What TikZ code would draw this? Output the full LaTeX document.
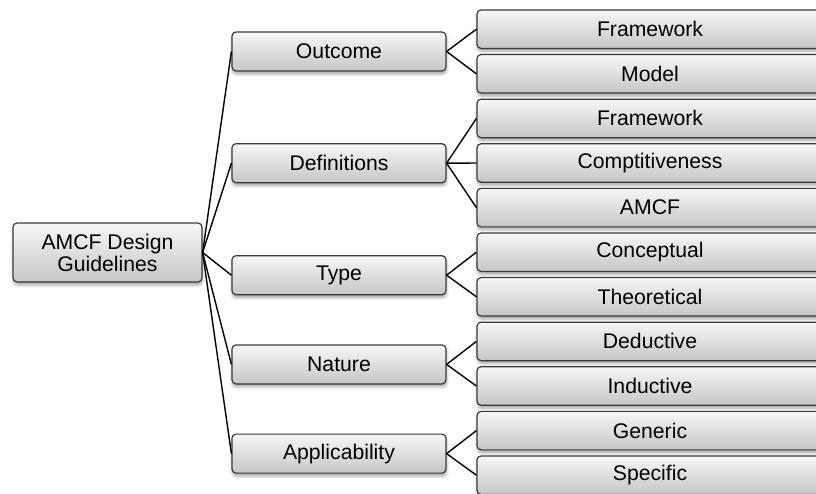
\documentclass[tikz,border=0pt]{standalone}
\usepackage{fontspec}
\setmainfont{Liberation Sans}
\usetikzlibrary{shadows.blur}
\definecolor{boxtop}{HTML}{F7F7F7}
\definecolor{boxbot}{HTML}{C6C6C6}
\definecolor{boxline}{HTML}{3A3A3A}
\tikzset{
  box/.style={draw=boxline, line width=1.2pt, rounded corners=4pt,
    top color=boxtop, bottom color=boxbot, inner sep=0pt,
    font=\fontsize{21.2}{22}\selectfont, text=black, align=center,
    blur shadow={shadow xshift=0.5pt, shadow yshift=-3pt, shadow blur radius=3pt, shadow opacity=35}},
  rootbox/.style={box, minimum width=189pt, minimum height=59pt},
  midbox/.style={box, minimum width=214pt, minimum height=39pt},
  leafbox/.style={box, minimum width=346pt, minimum height=38.5pt},
  link/.style={draw=black, line width=1.4pt}
}
\begin{document}
\begin{tikzpicture}[x=1pt,y=-1pt]
\useasboundingbox (0,0) rectangle (816,493);
\clip (0,0) rectangle (816,493);
\node[rootbox] (root) at (107.5,252.5) {AMCF Design\\Guidelines};
\node[midbox] (m1) at (339,51.5) {Outcome};
\node[midbox] (m2) at (339,163.2) {Definitions};
\node[midbox] (m3) at (339,275.2) {Type};
\node[midbox] (m4) at (339,364.4) {Nature};
\node[midbox] (m5) at (339,453.6) {Applicability};
\node[leafbox] (l1) at (650,29.2) {Framework};
\node[leafbox] (l2) at (650,73.8) {Model};
\node[leafbox] (l3) at (650,118.4) {Framework};
\node[leafbox] (l4) at (650,163.0) {Comptitiveness};
\node[leafbox] (l5) at (650,207.6) {AMCF};
\node[leafbox] (l6) at (650,252.2) {Conceptual};
\node[leafbox] (l7) at (650,296.8) {Theoretical};
\node[leafbox] (l8) at (650,341.4) {Deductive};
\node[leafbox] (l9) at (650,386.0) {Inductive};
\node[leafbox] (l10) at (650,430.6) {Generic};
\node[leafbox] (l11) at (650,475.2) {Specific};
\foreach \m in {m1,m2,m3,m4,m5} \draw[link] (root.east) -- (\m.west);
\draw[link] (m1.east) -- (l1.west);
\draw[link] (m1.east) -- (l2.west);
\draw[link] (m2.east) -- (l3.west);
\draw[link] (m2.east) -- (l4.west);
\draw[link] (m2.east) -- (l5.west);
\draw[link] (m3.east) -- (l6.west);
\draw[link] (m3.east) -- (l7.west);
\draw[link] (m4.east) -- (l8.west);
\draw[link] (m4.east) -- (l9.west);
\draw[link] (m5.east) -- (l10.west);
\draw[link] (m5.east) -- (l11.west);
\end{tikzpicture}
\end{document}
